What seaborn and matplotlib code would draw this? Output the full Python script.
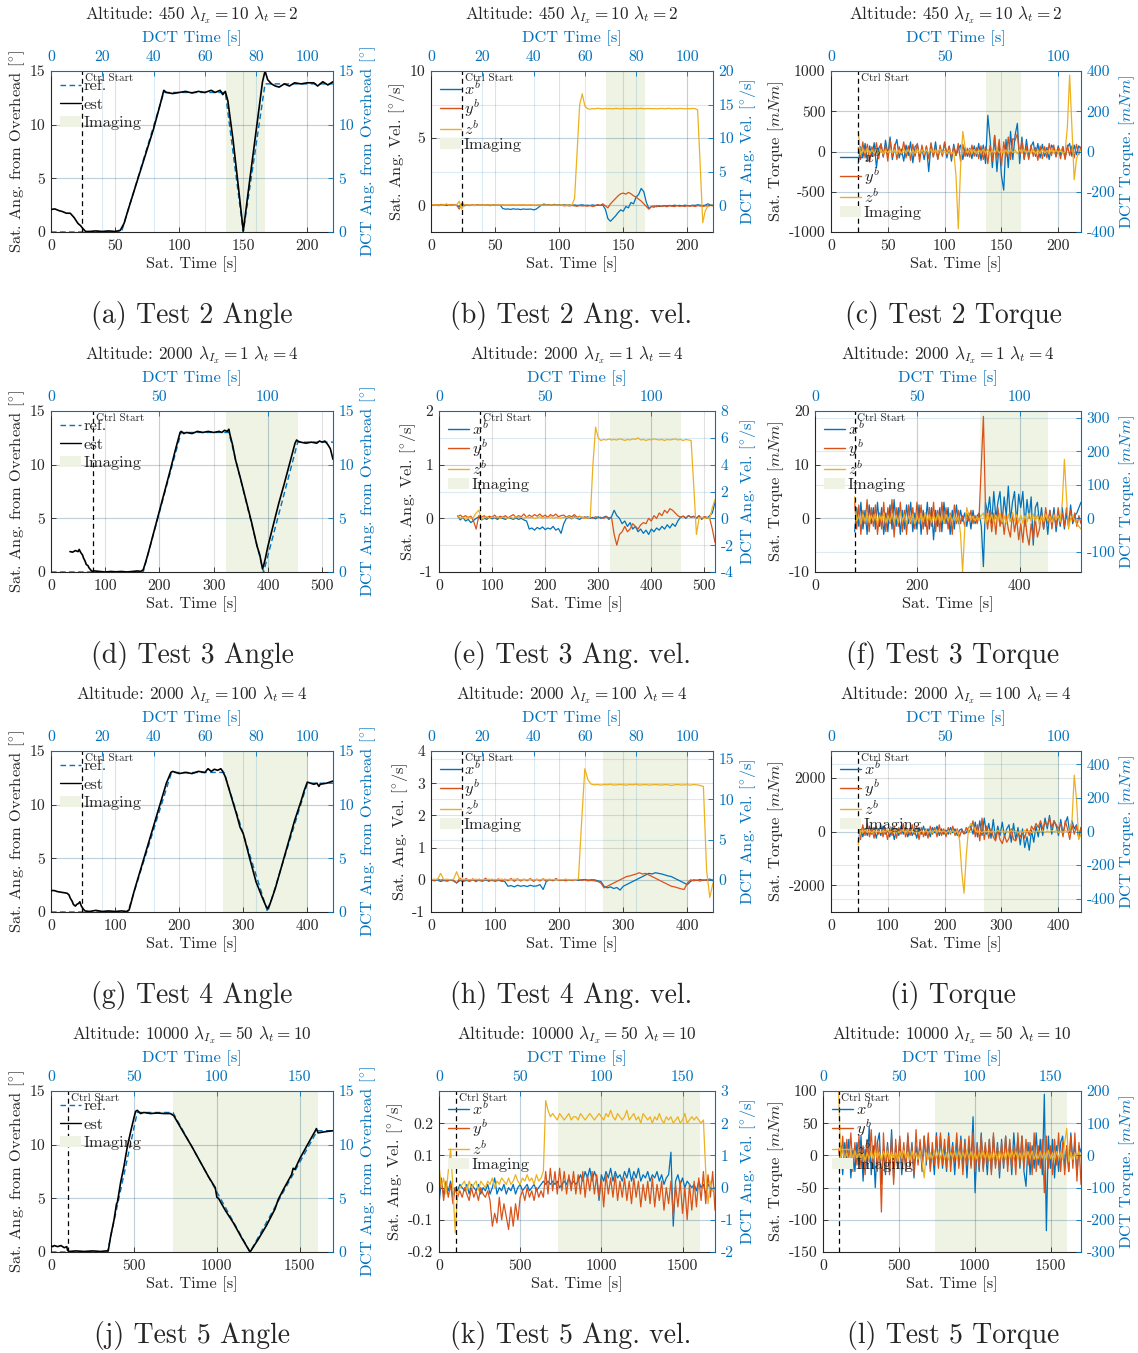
import numpy as np
import matplotlib
matplotlib.use("Agg")
import matplotlib.pyplot as plt
from matplotlib.lines import Line2D
from matplotlib.patches import Patch
import seaborn as sns

# ------------------------------------------------------------------ data
# Test 2 (altitude 450, lambda_t = 2)
a_ref = [(0, 0), (55, 0), (88, 13), (136, 13), (150, 0), (167, 13.8), (220, 13.8)]
a_est = [(0, 2.1), (3, 2.15), (6, 2.0), (9, 1.9), (12, 1.75), (15, 1.75), (18, 1.35), (21, 0.8),
         (23, 0.6), (25, 0.3), (27, 0.05), (30, 0.05), (35, 0.1), (40, 0.05), (45, 0.1), (50, 0.05),
         (54, 0.15), (57, 0.8), (60, 2.0), (70, 5.8), (80, 9.6), (85, 11.8), (88, 13.2), (90, 13.0),
         (95, 12.9), (100, 13.0), (105, 13.1), (110, 12.95), (115, 13.1), (120, 13.0), (125, 13.2),
         (128, 13.0), (132, 13.2), (134, 12.8), (136, 13.1), (138, 12.2), (142, 8.6), (146, 4.4),
         (150, 0.1), (155, 4.8), (160, 9.4), (165, 14.0), (167, 15.0), (169, 14.2), (172, 13.8),
         (175, 13.6), (178, 13.5), (182, 13.8), (186, 13.6), (190, 13.9), (195, 13.8), (200, 13.9),
         (205, 13.9), (208, 13.6), (212, 14.0), (216, 13.7), (220, 14.0)]

b_span = (0, 220)
b_x = [0.0, -0.02, 0.0, -0.03, 0.0, 0.05, -0.02, 0.0, -0.02, 0.03,
       -0.03, -0.1, 0.1, -0.05, 0.02, -0.02, 0.01, -0.03, 0.02, -0.01,
       0.02, -0.02, 0.01, -0.03, 0.0, 0.02, -0.02, 0.0, -0.25, -0.3,
       -0.28, -0.32, -0.27, -0.3, -0.29, -0.33, -0.28, -0.31, -0.3, -0.29,
       -0.35, -0.3, -0.15, 0.0, 0.08, 0.03, 0.05, 0.0, 0.06, 0.02,
       0.04, -0.02, 0.05, 0.0, 0.03, -0.03, 0.02, -0.02, 0.0, 0.03,
       -0.02, 0.0, -0.03, 0.02, -0.02, 0.0, -0.02, 0.01, -0.3, -1.0,
       -1.2, -1.0, -0.8, -0.55, -0.35, -0.45, -0.1, -0.2, 0.2, 0.1,
       0.6, 0.8, 1.25, 1.0, 0.2, -0.25, -0.1, -0.15, -0.05, -0.1,
       -0.08, -0.03, -0.06, -0.02, -0.05, 0.0, -0.04, -0.02, -0.05, 0.0,
       -0.03, -0.05, 0.0, -0.02, 0.03, 0.0, -0.03, 0.0, 0.1, 0.02,
       0.0]
b_y = [0.05, 0.0, 0.03, 0.02, 0.06, 0.0, 0.04, 0.02, 0.05, 0.0,
       0.02, -0.3, 0.1, 0.05, 0.02, -0.03, 0.02, 0.0, 0.03, 0.0,
       0.02, -0.01, 0.03, 0.0, 0.02, -0.02, 0.01, 0.0, 0.02, -0.01,
       0.01, 0.0, 0.02, -0.01, 0.01, 0.0, 0.02, -0.01, 0.0, 0.01,
       0.0, -0.02, 0.01, 0.0, -0.02, 0.01, 0.0, -0.01, 0.01, 0.0,
       -0.02, 0.0, -0.05, -0.02, -0.06, -0.01, -0.05, -0.08, -0.03, -0.06,
       -0.04, -0.08, -0.02, -0.1, -0.05, 0.05, -0.02, 0.1, -0.05, -0.2,
       0.1, 0.3, 0.5, 0.7, 0.85, 0.9, 0.82, 0.95, 0.85, 0.7,
       0.6, 0.45, 0.3, 0.1, -0.1, -0.3, -0.1, -0.05, -0.12, -0.03,
       -0.1, -0.05, -0.12, -0.04, -0.08, -0.1, -0.03, -0.09, -0.05, -0.1,
       -0.04, -0.08, -0.05, -0.1, -0.03, -0.06, -0.1, -0.05, -0.08, -0.02,
       -0.05]
b_z = [0.0, 0.02, 0.0, 0.01, 0.0, 0.02, 0.1, 0.0, 0.01, 0.0,
       0.0, 0.3, -0.3, 0.05, 0.0, 0.02, 0.0, -0.02, 0.0, 0.01,
       0.0, 0.01, 0.0, 0.02, 0.0, 0.01, 0.0, 0.02, 0.0, 0.01,
       0.0, 0.02, 0.0, 0.01, 0.0, 0.02, 0.0, 0.01, 0.0, 0.02,
       0.0, 0.01, 0.0, 0.02, 0.0, 0.01, 0.0, 0.02, 0.0, 0.01,
       0.0, 0.02, 0.0, 0.01, 0.0, 0.02, 0.5, 4.0, 7.5, 8.3,
       7.4, 7.2, 7.15, 7.2, 7.18, 7.22, 7.2, 7.17, 7.21, 7.19,
       7.2, 7.18, 7.21, 7.2, 7.17, 7.22, 7.19, 7.2, 7.18, 7.21,
       7.19, 7.2, 7.22, 7.18, 7.2, 7.21, 7.19, 7.2, 7.18, 7.2,
       7.21, 7.19, 7.2, 7.22, 7.18, 7.2, 7.19, 7.21, 7.2, 7.18,
       7.2, 7.19, 7.21, 7.2, 7.1, 3.0, -1.3, -0.4, -0.1, 0.0,
       0.0]

c_span = (24, 220)
c_x = [-150, 60, -80, 100, -120, 70, -60, 110, -200, 40,
       90, -70, 140, -40, 180, -100, 60, 150, -80, 30,
       -120, 80, -50, 120, -140, 60, 90, -70, 40, -100,
       70, -250, 90, -60, 120, -90, 50, -40, 110, -80,
       60, -120, 90, -50, 30, 80, -100, 50, -60, 40,
       -90, 70, -60, 100, -110, 80, -150, 450, 150, -200,
       200, -250, 100, -300, -480, 150, -200, 250, -100, 200,
       350, -150, 180, -100, 150, -80, 60, 120, -60, 100,
       -80, 90, -60, 50, -100, 80, 40, -60, 70, -50,
       60, -80, 50, 100, -60, 80, -40, 70, 30]
c_y = [50, -100, 120, -80, 90, -130, 60, -50, 110, -90,
       100, -60, 80, -120, 140, -70, 90, -100, 60, -40,
       120, -80, 70, -110, 90, -60, 100, -130, 80, -50,
       60, -90, 110, -70, 50, -100, 80, -60, 120, -40,
       70, -80, 60, -50, 100, -120, 90, -60, 40, -70,
       80, -60, 50, -90, 70, -100, 60, -150, 80, -120,
       200, -80, 150, -180, 120, -60, 180, -100, 160, 140,
       220, -50, 130, -90, 60, -100, 80, -60, 50, -110,
       70, -90, 60, -80, 100, -50, 80, -70, 40, -90,
       60, -100, 80, -50, 70, -80, 90, -40, 60]
c_z = [250, -40, 30, -20, 40, -30, 20, -25, 30, -20,
       25, -30, 20, -15, 30, -20, 25, -30, 20, -25,
       30, -20, 25, -30, 15, -20, 30, -25, 20, -30,
       25, -20, 30, -15, 20, -25, 30, -20, 15, -25,
       20, -30, 0, -300, -960, -200, 250, 50, -20, 30,
       -20, 25, -30, 20, -15, 30, -20, 25, -30, 20,
       -25, 30, -20, 15, -30, 20, -25, 30, -15, 20,
       -30, 25, -20, 30, -25, 15, -20, 25, -30, 20,
       -25, 30, -20, 15, -25, 30, -20, 25, -15, 20,
       -30, 0, 300, 950, 300, -350, -100, 0, 20]

# Test 3 (altitude 2000, lambda_t = 4)
d_ref = [(0, 0), (170, 0), (240, 13), (328, 13), (392, 0), (455, 12.1), (520, 12.1)]
d_est = [(35, 1.9), (40, 1.85), (45, 2.0), (50, 1.9), (52, 2.1), (55, 1.8), (58, 1.6), (60, 1.3),
         (63, 1.0), (65, 0.7), (68, 0.6), (70, 0.4), (73, 0.2), (75, 0.1), (78, 0.05), (80, 0.1),
         (90, 0.05), (100, 0.0), (110, 0.05), (120, 0.02), (130, 0.05), (140, 0.0), (150, 0.05),
         (160, 0.1), (165, 0.05), (170, 0.2), (175, 1.0), (180, 1.9), (190, 3.8), (200, 5.7),
         (210, 7.6), (220, 9.5), (230, 11.5), (238, 13.0), (240, 13.1), (245, 12.9), (250, 13.0),
         (260, 12.9), (270, 13.1), (280, 13.0), (290, 13.1), (300, 13.0), (310, 13.1), (315, 13.0),
         (320, 13.2), (325, 13.1), (328, 13.3), (330, 12.8), (335, 11.8), (340, 10.5), (350, 8.6),
         (360, 6.6), (370, 4.6), (380, 2.4), (385, 1.6), (388, 0.8), (390, 0.3), (392, 0.6),
         (395, 1.2), (400, 2.4), (410, 4.4), (420, 6.4), (430, 8.2), (440, 10.1), (450, 12.0),
         (453, 12.3), (455, 12.2), (460, 12.1), (470, 12.0), (480, 12.1), (490, 12.0), (495, 12.2),
         (500, 12.1), (505, 12.2), (510, 11.9), (515, 11.5), (520, 10.5)]

e_span = (35, 520)
e_x = [0.05, -0.03, 0.02, -0.05, -0.02, -0.08, -0.04, 0.0, 0.03, -0.03,
       0.0, -0.02, 0.02, -0.01, 0.01, -0.02, 0.01, 0.0, -0.02, 0.01,
       0.0, -0.02, 0.01, -0.02, 0.0, -0.03, -0.05, -0.2, -0.18, -0.22,
       -0.17, -0.2, -0.16, -0.21, -0.18, -0.2, -0.15, -0.22, -0.19, -0.28,
       -0.1, 0.0, 0.02, -0.01, 0.03, 0.0, -0.02, 0.02, 0.0, 0.03,
       0.0, 0.02, -0.01, 0.03, 0.0, 0.02, 0.04, -0.02, 0.03, 0.15,
       0.05, 0.0, -0.1, -0.05, -0.15, -0.08, -0.2, -0.15, -0.25, -0.2,
       -0.28, -0.22, -0.3, -0.2, -0.25, -0.18, -0.22, -0.15, -0.2, -0.12,
       -0.18, -0.1, -0.15, -0.05, 0.02, 0.04, 0.0, 0.05, 0.02, 0.04,
       0.0, 0.05, -0.02, 0.03, 0.0, 0.05, 0.1, 0.3]
e_y = [0.03, 0.06, 0.02, 0.05, 0.01, 0.04, -0.05, -0.2, 0.05, 0.02,
       0.05, 0.01, 0.04, 0.02, 0.06, 0.0, 0.04, 0.02, 0.05, 0.01,
       0.04, 0.07, 0.02, 0.05, 0.03, 0.08, 0.02, 0.06, 0.03, 0.07,
       0.04, 0.08, 0.03, 0.06, 0.02, 0.07, 0.04, 0.08, 0.03, 0.05,
       0.06, 0.02, 0.05, 0.03, 0.07, 0.02, 0.04, 0.01, 0.03, 0.0,
       0.02, 0.0, 0.03, 0.01, 0.02, 0.0, 0.03, 0.01, 0.02, -0.3,
       -0.5, -0.3, -0.25, -0.15, -0.25, -0.2, -0.1, -0.15, -0.2, -0.12,
       -0.08, -0.1, 0.0, -0.05, 0.05, 0.0, 0.1, 0.05, 0.15, 0.1,
       0.18, 0.15, 0.1, 0.05, 0.02, 0.04, 0.01, 0.05, 0.02, 0.03,
       0.01, 0.04, 0.0, 0.03, 0.02, 0.0, -0.2, -0.45]
e_z = [0.05, 0.0, 0.02, -0.01, 0.03, 0.0, 0.02, 0.1, 0.15, -0.02,
       0.01, 0.03, 0.0, 0.02, 0.01, 0.03, 0.0, 0.02, 0.01, 0.0,
       0.02, 0.0, 0.03, 0.01, 0.02, 0.0, 0.03, 0.01, 0.02, 0.0,
       0.01, 0.03, 0.0, 0.02, 0.01, 0.03, 0.0, 0.02, 0.01, 0.0,
       0.02, 0.01, 0.03, 0.0, 0.02, 0.01, 0.03, 0.02, 0.0, 0.01,
       0.02, 1.0, 1.7, 1.5, 1.45, 1.47, 1.46, 1.48, 1.46, 1.47,
       1.46, 1.48, 1.47, 1.45, 1.47, 1.46, 1.48, 1.47, 1.5, 1.46,
       1.47, 1.45, 1.47, 1.46, 1.48, 1.47, 1.46, 1.47, 1.45, 1.47,
       1.46, 1.47, 1.48, 1.46, 1.47, 1.45, 1.47, 1.46, 1.45, 0.6,
       -0.3, 0.0, 0.02, 0.0, 0.01, 0.0, 0.2, 0.35]

f_span = (77.5, 520)
f_x = [-2.5, 2, -1.5, 3, -2, 1.5, -3, 2.5, -1, 2,
       -2, 3, -1.5, 2, -3, 1, -2.5, 2.5, -2, 3.5,
       -1.5, 2, -3, 1.5, -2, 2.5, -1, 3, -2.5, 1,
       -2, 2.5, -3, 1.5, -1.5, 3, -2, 2, -4, 1.5,
       -1.5, 2, -2.5, 3, -1, 2, -3, 1.5, -2, 2.5,
       -1, 1.5, -0.5, 1, -1.5, 1, -2, 1.5, -1, 0.5,
       1, -1.5, -9, 3, 1, 4, -1, 5, 0, 3,
       5, -1, 4, 0.5, 6, -0.5, 3, 5, -1, 4.5,
       2, 5, -1.5, 3.5, 0, 4, -5, 2, 3, -1,
       2, -2, 1, -3, 1.5, -1, 2, -2.5, 1, -1.5,
       2, -2, 1, -1.5, 2.5, -1, 0.5, 1, 2, 3]
f_y = [3, -2, 2.5, -3, 1.5, -1, 3.5, -2.5, 2, -1.5,
       2.5, -3, 1, -2, 3, -2.5, 2, -1, 3.5, -3.5,
       2, -1.5, 3, -2.5, 1.5, -3, 2.5, -1, 2, -2,
       3, -1, 2.5, -2, 1, -3, 2, -1.5, 3, -2.5,
       1.5, -2.5, 3, -1, 2, -2, 1, -3, 2.5, -1,
       1.5, -1, 0.5, -1.5, 1, -0.5, 1.5, -1, 0.5, -1,
       1, 10, 19, 2, -2, 1.5, -2.5, 1, -3, 2,
       -1.5, 1, -3, 0.5, -2, -3.5, 1, -2.5, 0, -4,
       -1, -4.5, 0.5, -3, -5, -1, -4, 0, -3.5, -2,
       1, -2, 2, -1, 1.5, -2, 1, -1.5, 2, -1,
       1, -1.5, 2, -1, 1.5, -0.5, 1, -1.5, 0.5, -1]
f_z = [4, -0.5, 0.5, -1, 0.8, -0.6, 1, -0.8, 0.5, -0.5,
       0.8, -1, 0.6, -0.5, 1, -0.8, 0.5, -0.6, 0.9, -0.7,
       0.6, -0.8, 1, -0.5, 0.7, -0.9, 0.5, -0.6, 0.8, -1,
       0.5, -0.7, 0.9, -0.6, 1, -0.5, 0.7, -0.8, 0.6, -0.5,
       0.8, -0.6, 0.5, -0.9, 0.7, -0.5, 0.6, -0.7, 0.5, -0.4,
       0.3, -3, -10, -2, 2, 0.5, -0.3, 0.4, -0.5, 0.3,
       -0.4, 0.5, 1, -1, 0.8, -0.6, 0.7, -0.8, 0.6, -0.5,
       0.9, -0.7, 0.5, -1, 0.8, -0.6, 1, -0.5, 0.7, -0.8,
       0.6, -0.9, 0.5, -0.7, 1, -0.6, 0.8, -0.5, 0.7, -0.9,
       0.5, -0.6, 0.8, -0.5, 0.4, -0.7, 0.6, -0.3, 0.5, -0.6,
       3, 11, 4, -2, 0, 0.5, -0.5, -1, -1.5, -2]

# Test 4 (altitude 2000, lambda_t = 4)
g_ref = [(0, 0), (120, 0), (188, 13), (270, 13), (338, 0), (400, 12), (440, 12)]
g_est = [(0, 2.0), (5, 2.0), (10, 1.9), (15, 1.85), (20, 1.8), (25, 1.75), (28, 1.6), (30, 1.3),
         (33, 1.0), (35, 0.7), (38, 0.55), (40, 0.7), (43, 0.8), (45, 0.95), (47, 0.6), (50, 0.3),
         (53, 0.1), (60, 0.05), (70, 0.15), (80, 0.05), (90, 0.1), (100, 0.05), (110, 0.1),
         (118, 0.05), (122, 0.2), (130, 2.0), (140, 4.0), (150, 6.0), (160, 8.0), (170, 10.0),
         (180, 12.0), (187, 13.0), (190, 13.1), (195, 13.0), (200, 12.9), (210, 13.0), (220, 12.9),
         (230, 13.1), (240, 13.0), (245, 13.35), (250, 13.1), (255, 13.3), (260, 13.2), (265, 13.35),
         (268, 13.1), (272, 12.6), (280, 11.0), (290, 9.0), (295, 7.9), (300, 7.3), (310, 5.0),
         (320, 2.8), (330, 1.3), (335, 0.6), (338, 0.3), (342, 0.8), (350, 2.2), (360, 4.3),
         (370, 6.4), (380, 8.5), (390, 10.3), (395, 11.3), (400, 12.1), (405, 12.0), (410, 11.9),
         (415, 12.0), (418, 11.7), (420, 11.9), (430, 12.0), (440, 12.2)]

h_span = (0, 440)
h_x = [0.0, -0.03, -0.01, -0.05, -0.02, -0.04, -0.01, -0.03, -0.1, -0.02,
       -0.05, -0.02, -0.04, -0.01, -0.03, -0.02, -0.04, -0.01, -0.03, -0.02,
       -0.04, -0.02, -0.03, -0.05, -0.2, -0.18, -0.22, -0.17, -0.2, -0.18,
       -0.21, -0.17, -0.2, -0.19, -0.15, -0.3, -0.05, 0.0, -0.02, 0.01,
       0.0, -0.02, 0.01, -0.01, 0.0, 0.01, -0.02, 0.0, 0.01, -0.01,
       0.0, 0.0, -0.03, -0.05, -0.2, -0.25, -0.22, -0.27, -0.24, -0.32,
       -0.2, -0.15, -0.1, -0.05, 0.0, 0.05, 0.1, 0.15, 0.2, 0.18,
       0.22, 0.2, 0.18, 0.15, 0.12, 0.1, 0.05, 0.0, -0.05, -0.1,
       -0.15, -0.05, 0.0, -0.02, 0.01, -0.02, 0.0, 0.02, -0.01]
h_y = [0.0, -0.02, 0.02, -0.01, 0.01, -0.02, 0.0, -0.01, -0.1, 0.05,
       -0.03, 0.04, -0.05, 0.03, -0.06, 0.02, -0.04, 0.05, -0.05, 0.02,
       -0.04, 0.03, -0.05, 0.02, -0.03, 0.04, -0.05, 0.03, -0.04, 0.02,
       -0.03, 0.04, -0.05, 0.02, -0.04, 0.03, -0.05, 0.02, -0.03, 0.04,
       -0.02, 0.0, -0.03, 0.01, -0.02, 0.0, 0.01, -0.02, 0.0, -0.03,
       -0.02, -0.03, -0.05, -0.1, -0.25, -0.2, -0.15, -0.1, -0.05, 0.0,
       0.05, 0.1, 0.12, 0.15, 0.18, 0.22, 0.18, 0.2, 0.15, 0.1,
       0.05, 0.0, -0.05, -0.1, -0.15, -0.2, -0.22, -0.25, -0.28, -0.3,
       -0.1, 0.0, -0.03, -0.01, -0.04, 0.0, -0.02, 0.01, -0.03]
h_z = [0.0, 0.02, 0.0, 0.2, 0.0, 0.02, 0.0, 0.01, 0.25, 0.0,
       0.02, 0.0, 0.01, 0.0, 0.02, 0.0, 0.01, 0.0, 0.02, 0.0,
       0.01, 0.0, 0.02, 0.0, 0.01, 0.0, 0.02, 0.01, 0.0, 0.01,
       0.0, 0.02, 0.0, 0.01, 0.0, 0.02, 0.01, 0.0, 0.01, 0.0,
       0.01, 0.0, 0.02, 0.0, 0.01, 0.0, 0.02, 1.8, 3.45, 3.1,
       2.97, 2.95, 2.96, 2.94, 2.96, 2.95, 2.97, 2.94, 2.95, 2.96,
       2.95, 2.94, 2.96, 2.95, 2.97, 2.94, 2.95, 2.96, 2.94, 2.95,
       2.96, 2.95, 2.94, 2.96, 2.95, 2.93, 2.95, 2.96, 2.94, 2.95,
       2.95, 2.94, 2.96, 2.95, 2.93, 2.9, 0.3, -0.55, -0.1]

i_span = (48, 440)
i_x = [-400, 150, -200, 100, -150, 200, -100, 150, -250, 100,
       -150, 200, -100, 50, -200, 150, -300, 100, -150, 200,
       -100, 150, -200, 100, -150, 50, -250, 150, -100, 200,
       -150, 100, -200, 150, -50, 200, -150, 100, -100, 50,
       -100, 150, -50, 100, -150, 50, 100, -80, -50, 150,
       200, -100, 350, -200, 400, -150, 500, -100, 300, -250,
       450, -300, 200, -150, 350, -200, 100, 250, -400, 300,
       -300, 150, -500, 100, -600, -200, -700, 50, -400, 200,
       -200, 350, -150, 500, 100, 600, -100, 400, 200, -150,
       450, -100, 300, 550, -50, 400, 100, 250, -200, 150]
i_y = [200, -300, 250, -150, 300, -200, 150, -250, 200, -100,
       250, -200, 150, -300, 100, -150, 200, -250, 150, -100,
       300, -200, 100, -150, 250, -100, 200, -300, 150, -200,
       100, -250, 200, -100, 150, -200, 250, -150, 100, -200,
       150, -100, 200, -150, 100, -200, 50, -100, 150, -50,
       100, 400, -200, 250, -350, 500, -300, 200, -250, 100,
       -200, -350, 50, -300, -450, -150, -400, -250, 100, -300,
       -350, -100, -200, 0, -250, 100, -150, 200, 50, 300,
       150, 400, 100, 350, 200, 500, 150, 400, 250, 100,
       300, -200, 400, 100, -300, 250, -100, 200, -250, 150]
i_z = [-500, 40, -30, 50, -40, 30, -50, 40, -30, 20,
       -40, 30, -20, 50, -30, 40, -50, 30, -40, 20,
       30, -40, 50, -20, 40, -30, 20, -50, 30, -40,
       40, -30, 20, -40, 50, -30, 40, -20, 30, -50,
       20, -40, 30, -50, 40, -300, -1500, -2300, -900, 100,
       300, 200, 50, -30, 20, -40, 30, -20, 40, -30,
       20, -30, 40, -20, 30, -40, 20, -30, 40, -20,
       30, -40, 20, -30, 40, -20, 30, -40, 20, -30,
       40, -20, 30, -40, 20, -30, 40, -20, 30, -40,
       20, -30, 40, -20, 30, 400, 2100, 1200, -300, -100]

# Test 5 (altitude 10000, lambda_t = 10)
j_ref = [(0, 0), (340, 0), (520, 13), (735, 13), (1200, 0), (1605, 11.3), (1700, 11.3)]
j_est = [(0, 0.6), (10, 0.5), (20, 0.6), (40, 0.5), (60, 0.6), (80, 0.4), (95, 0.5), (100, 0.15),
         (110, 0.05), (150, 0.1), (200, 0.05), (250, 0.1), (300, 0.05), (330, 0.1), (345, 0.1),
         (360, 1.5), (380, 3.0), (395, 4.5), (400, 4.6), (420, 6.5), (440, 8.0), (460, 9.8),
         (480, 11.2), (500, 12.5), (510, 13.1), (520, 13.2), (540, 12.9), (560, 13.0), (600, 12.9),
         (640, 12.95), (680, 12.9), (720, 12.9), (740, 12.7), (800, 11.1), (850, 9.8), (900, 8.4),
         (950, 7.0), (990, 6.0), (1000, 5.1), (1010, 5.0), (1050, 3.9), (1100, 2.7), (1150, 1.3),
         (1200, 0.0), (1250, 1.2), (1300, 2.5), (1350, 4.0), (1370, 4.9), (1400, 5.8), (1450, 7.2),
         (1460, 7.8), (1470, 7.7), (1500, 8.7), (1550, 10.1), (1590, 11.2), (1600, 11.5),
         (1610, 11.1), (1650, 11.2), (1700, 11.3)]

k_span = (0, 1700)
k_x = [-0.05, 0.02, -0.02, 0.01, -0.01, 0.02, -0.03, 0.0, -0.01, 0.01,
       0.0, -0.01, 0.01, -0.02, 0.01, 0.0, -0.01, 0.01, -0.02, 0.0,
       -0.01, 0.01, -0.02, 0.0, 0.03, -0.02, 0.0, -0.01, 0.01, -0.02,
       0.0, -0.01, 0.01, -0.02, 0.0, 0.01, -0.01, 0.0, 0.01, -0.01,
       0.0, 0.01, -0.01, 0.0, 0.01, 0.02, 0.01, 0.02, 0.01, 0.02,
       0.01, 0.02, 0.0, 0.01, 0.02, 0.01, 0.03, 0.01, 0.02, 0.01,
       0.02, 0.04, 0.02, 0.05, 0.03, 0.06, 0.02, 0.05, 0.03, -0.04,
       0.04, 0.02, 0.05, 0.03, 0.06, 0.02, 0.05, 0.03, 0.04, 0.02,
       0.05, 0.03, 0.06, 0.02, 0.05, 0.03, 0.06, 0.02, 0.04, 0.03,
       0.05, 0.02, 0.04, 0.03, 0.05, 0.02, 0.04, 0.01, 0.03, 0.04,
       0.11, -0.12, 0.02, 0.04, 0.01, 0.03, 0.0, 0.02, 0.01, 0.0,
       0.01, -0.01, 0.02, 0.0, 0.01, -0.02, 0.01, 0.0, -0.01, 0.0]
k_y = [-0.02, 0.03, -0.04, 0.02, -0.03, 0.01, -0.05, 0.0, -0.03, -0.01,
       -0.03, 0.0, -0.02, -0.04, 0.0, -0.03, -0.01, -0.04, 0.0, -0.02,
       -0.03, -0.01, -0.04, -0.12, -0.08, -0.11, -0.03, -0.1, -0.05, -0.09,
       -0.13, -0.06, -0.12, -0.05, -0.1, -0.03, -0.01, -0.04, 0.0, -0.03,
       -0.01, -0.04, 0.0, -0.03, -0.01, -0.03, 0.05, -0.02, 0.06, -0.01,
       0.05, -0.02, 0.06, -0.01, 0.05, -0.02, 0.04, -0.01, 0.05, -0.02,
       0.04, -0.02, 0.05, -0.03, 0.04, -0.01, 0.05, -0.02, 0.04, -0.03,
       0.03, -0.06, 0.04, -0.02, 0.03, -0.03, 0.04, -0.04, 0.02, -0.03,
       0.03, -0.04, 0.02, -0.05, 0.03, -0.03, 0.02, -0.06, 0.01, -0.04,
       0.02, -0.05, 0.03, -0.06, 0.01, -0.04, 0.02, -0.07, 0.0, -0.05,
       0.02, -0.09, 0.01, -0.06, 0.02, -0.08, 0.0, -0.1, 0.01, -0.07,
       0.02, -0.06, 0.03, -0.04, 0.05, -0.05, 0.04, -0.03, 0.05, -0.07]
k_z = [0.07, 0.0, 0.03, -0.02, 0.05, 0.12, 0.0, -0.14, -0.02, 0.0,
       0.01, 0.02, -0.01, 0.02, 0.0, 0.01, 0.02, -0.01, 0.02, 0.01,
       0.0, 0.02, 0.01, 0.03, 0.0, 0.02, 0.01, 0.03, 0.02, 0.01,
       0.03, 0.01, 0.02, 0.04, 0.02, 0.01, 0.03, 0.02, 0.04, 0.02,
       0.03, 0.01, 0.04, 0.02, 0.03, 0.05, 0.27, 0.24, 0.22, 0.23,
       0.22, 0.21, 0.23, 0.22, 0.21, 0.22, 0.23, 0.21, 0.22, 0.22,
       0.21, 0.23, 0.22, 0.21, 0.22, 0.23, 0.22, 0.21, 0.22, 0.23,
       0.22, 0.21, 0.23, 0.22, 0.24, 0.22, 0.21, 0.23, 0.22, 0.21,
       0.22, 0.24, 0.21, 0.22, 0.23, 0.21, 0.22, 0.20, 0.23, 0.22,
       0.21, 0.22, 0.20, 0.22, 0.21, 0.23, 0.21, 0.20, 0.22, 0.21,
       0.22, 0.20, 0.21, 0.22, 0.20, 0.21, 0.23, 0.20, 0.21, 0.22,
       0.21, 0.22, 0.21, 0.20, 0.21, 0.05, -0.05, 0.02, -0.01, 0.0]

l_span = (103, 1700)
l_x = [-20, 15, -30, 20, -10, 25, -35, 10, -25, 20,
       -15, 30, -40, 10, -20, 45, -30, 15, -50, 20,
       35, -45, 10, -30, 20, -25, 40, -35, 15, -20,
       25, -30, 10, -20, 30, -15, 20, -35, 15, -10,
       20, -25, 30, -15, 25, -20, 10, -30, 35, -15,
       30, -20, 15, -25, 35, -10, 20, -30, 25, -15,
       30, -20, 25, -35, 20, -15, 60, -58, 20, -25,
       35, -20, 15, -30, 25, -25, 30, -15, 20, -35,
       25, -20, 30, -15, 20, -30, 35, -10, 25, -20,
       30, -25, -48, 20, -30, 15, -20, 35, -15, 25,
       -30, 95, -117, 30, -20, 25, -35, 15, -25, 20,
       30, -20, 15, -25, 35, -10, 20, -30, 15, 5]
l_y = [10, -15, 30, -20, 25, -10, 35, -25, 20, -15,
       30, -20, 15, -30, 25, -10, 40, -20, 30, -25,
       20, -88, 35, -25, 15, -30, 30, -45, 25, -20,
       30, -15, 20, -25, 35, -20, 15, -30, 40, -15,
       25, -20, 30, -10, 35, -25, 20, -15, 30, -20,
       35, -15, 25, -20, 30, -25, 15, -10, 35, -20,
       25, -30, 20, -15, 30, -20, 35, -25, 15, -20,
       30, -25, 20, -15, 25, -30, 35, -20, 15, -25,
       20, -15, 30, -25, 25, -20, 15, -30, 35, -15,
       30, -20, 25, -15, 20, -30, 35, -25, 15, -20,
       25, -58, 30, -20, 15, -30, 25, -15, 35, -25,
       20, -30, 15, -25, 30, -20, 35, -40, 20, -45]
l_z = [100, -5, 8, -6, 4, -8, 6, -4, 7, -5,
       6, -7, 5, -8, 4, -6, 7, -5, 8, -4,
       5, -8, 6, -4, 7, -6, 5, -7, 4, -8,
       6, -5, 8, -4, 5, -7, 6, -5, 4, -6,
       7, -10, -35, 5, -6, 4, -5, 7, -4, 6,
       -5, 8, -6, 4, -7, 5, -4, 6, -5, 7,
       -6, 5, -4, 8, -5, 6, -7, 4, -6, 5,
       -4, 7, -5, 6, -8, 4, -6, 5, -7, 6,
       -5, 4, -6, 7, -5, 8, -4, 6, -5, 4,
       -7, 5, -4, 6, -5, 7, -6, 4, -5, 6,
       -4, 5, -6, 8, -5, 4, -7, 6, -4, 5,
       -6, 20, 42, -10, 5, -6, 4, -5, 6, -4]

# ------------------------------------------------------------------ style
sns.set_style("white")
plt.rcParams.update({
    "font.family": ["cmr10", "DejaVu Serif"],
    "mathtext.fontset": "cm",
    "axes.formatter.use_mathtext": True,
    "axes.unicode_minus": False,
})

BLUE = "#0072BD"
ORANGE = "#D95319"
YELLOW = "#EDB120"
DARK = "#262626"
IMG = "#eef3e4"
GRID_K = (0.15, 0.15, 0.15, 0.14)
GRID_B = (0.0, 0.447, 0.741, 0.14)
FS_TITLE = 12.4     # titles above each panel
FS_LAB = 11.8       # axis labels and legends
FS_TICK = 11.3      # tick labels

W, H = 1138, 1353
fig = plt.figure(figsize=(W / 100, H / 100), dpi=100)
fig.patch.set_facecolor("white")

ANG_L = "Sat. Ang. from Overhead [$^{\\circ}$]"
ANG_R = "DCT Ang. from Overhead [$^{\\circ}$]"
VEL_L = "Sat. Ang. Vel. [$^{\\circ}$/s]"
VEL_R = "DCT Ang. Vel. [$^{\\circ}$/s]"
TRQ_L = "Sat. Torque [$mNm$]"
TRQ_R = "DCT Torque. [$mNm$]"

T2 = "Altitude: 450 $\\lambda_{I_x} = 10$ $\\lambda_t = 2$"
T3 = "Altitude: 2000 $\\lambda_{I_x} = 1$ $\\lambda_t = 4$"
T4 = "Altitude: 2000 $\\lambda_{I_x} = 100$ $\\lambda_t = 4$"
T5 = "Altitude: 10000 $\\lambda_{I_x} = 50$ $\\lambda_t = 10$"

panels = [
    dict(kind="angle", box=(51, 71, 333, 232), title=T2, cap="(a) Test 2 Angle",
         xlim=(0, 220), xt=[0, 50, 100, 150, 200], lam=2, tt=[0, 20, 40, 60, 80, 100],
         ylim=(0, 15), yt=[0, 5, 10, 15], rlim=(0, 15), rt=[0, 5, 10, 15],
         ctrl=24, img=(136.7, 167), ref=a_ref, est=a_est),
    dict(kind="vel", box=(431, 71, 713, 232), title=T2, cap="(b) Test 2 Ang. vel.",
         xlim=(0, 220), xt=[0, 50, 100, 150, 200], lam=2, tt=[0, 20, 40, 60, 80, 100],
         ylim=(-2, 10), yt=[0, 5, 10], rlim=(-4, 20), rt=[0, 5, 10, 15, 20],
         ctrl=24, img=(136.7, 167), span=b_span, xyz=(b_x, b_y, b_z)),
    dict(kind="torque", box=(831, 71, 1081, 232), title=T2, cap="(c) Test 2 Torque",
         xlim=(0, 220), xt=[0, 50, 100, 150, 200], lam=2, tt=[0, 50, 100],
         ylim=(-1000, 1000), yt=[-1000, -500, 0, 500, 1000], rlim=(-400, 400),
         rt=[-400, -200, 0, 200, 400], ctrl=24, img=(136.7, 167), span=c_span,
         xyz=(c_x, c_y, c_z), leg_off=76),
    dict(kind="angle", box=(51, 411, 333, 572), title=T3, cap="(d) Test 3 Angle",
         xlim=(0, 520), xt=[0, 100, 200, 300, 400, 500], lam=4, tt=[0, 50, 100],
         ylim=(0, 15), yt=[0, 5, 10, 15], rlim=(0, 15), rt=[0, 5, 10, 15],
         ctrl=77.5, img=(322, 455), ref=d_ref, est=d_est),
    dict(kind="vel", box=(439, 411, 715, 572), title=T3, cap="(e) Test 3 Ang. vel.",
         xlim=(0, 520), xt=[0, 100, 200, 300, 400, 500], lam=4, tt=[0, 50, 100],
         ylim=(-1, 2), yt=[-1, 0, 1, 2], rlim=(-4, 8), rt=[-4, -2, 0, 2, 4, 6, 8],
         ctrl=77.5, img=(322, 455), span=e_span, xyz=(e_x, e_y, e_z)),
    dict(kind="torque", box=(815, 411, 1081, 572), title=T3, cap="(f) Test 3 Torque",
         xlim=(0, 520), xt=[0, 200, 400], lam=4, tt=[0, 50, 100],
         ylim=(-10, 20), yt=[-10, 0, 10, 20], rlim=(-160, 320),
         rt=[-100, 0, 100, 200, 300], ctrl=77.5, img=(322, 455), span=f_span,
         xyz=(f_x, f_y, f_z)),
    dict(kind="angle", box=(51, 751, 333, 912), title=T4, cap="(g) Test 4 Angle",
         xlim=(0, 440), xt=[0, 100, 200, 300, 400], lam=4, tt=[0, 20, 40, 60, 80, 100],
         ylim=(0, 15), yt=[0, 5, 10, 15], rlim=(0, 15), rt=[0, 5, 10, 15],
         ctrl=48, img=(269, 401), ref=g_ref, est=g_est),
    dict(kind="vel", box=(431, 751, 713, 912), title=T4, cap="(h) Test 4 Ang. vel.",
         xlim=(0, 440), xt=[0, 100, 200, 300, 400], lam=4, tt=[0, 20, 40, 60, 80, 100],
         ylim=(-1, 4), yt=[-1, 0, 1, 2, 3, 4], rlim=(-4, 16), rt=[0, 5, 10, 15],
         ctrl=48, img=(269, 401), span=h_span, xyz=(h_x, h_y, h_z)),
    dict(kind="torque", box=(831, 751, 1081, 912), title=T4, cap="(i) Torque",
         xlim=(0, 440), xt=[0, 100, 200, 300, 400], lam=4, tt=[0, 50, 100],
         ylim=(-3000, 3000), yt=[-2000, 0, 2000], rlim=(-480, 480),
         rt=[-400, -200, 0, 200, 400], ctrl=48, img=(269, 401), span=i_span,
         xyz=(i_x, i_y, i_z)),
    dict(kind="angle", box=(51, 1091, 333, 1252), title=T5, cap="(j) Test 5 Angle",
         xlim=(0, 1700), xt=[0, 500, 1000, 1500], lam=10, tt=[0, 50, 100, 150],
         ylim=(0, 15), yt=[0, 5, 10, 15], rlim=(0, 15), rt=[0, 5, 10, 15],
         ctrl=103, img=(735, 1608), ref=j_ref, est=j_est),
    dict(kind="vel", box=(439, 1091, 715, 1252), title=T5, cap="(k) Test 5 Ang. vel.",
         xlim=(0, 1700), xt=[0, 500, 1000, 1500], lam=10, tt=[0, 50, 100, 150],
         ylim=(-0.2, 0.3), yt=[-0.2, -0.1, 0, 0.1, 0.2], rlim=(-2, 3),
         rt=[-2, -1, 0, 1, 2, 3], ctrl=103, img=(735, 1608), span=k_span,
         xyz=(k_x, k_y, k_z)),
    dict(kind="torque", box=(823, 1091, 1081, 1252), title=T5, cap="(l) Test 5 Torque",
         xlim=(0, 1700), xt=[0, 500, 1000, 1500], lam=10, tt=[0, 50, 100, 150],
         ylim=(-150, 100), yt=[-150, -100, -50, 0, 50, 100], rlim=(-300, 200),
         rt=[-300, -200, -100, 0, 100, 200], ctrl=103, img=(735, 1608), span=l_span,
         xyz=(l_x, l_y, l_z)),
]

CAP_X = [192, 571, 953]
YLABELS = {"angle": (ANG_L, ANG_R), "vel": (VEL_L, VEL_R), "torque": (TRQ_L, TRQ_R)}


def fmt(v):
    return str(int(round(v))) if float(v).is_integer() else f"{v:g}"


def line(ax, t, v, color, lw=0.9, ls="-", z=2):
    sns.lineplot(x=np.asarray(t, float), y=np.asarray(v, float), ax=ax, color=color,
                 linewidth=lw, linestyle=ls, estimator=None, sort=False, legend=False,
                 zorder=z)


def build(idx, p):
    L, T, R, B = p["box"]
    ax = fig.add_axes([L / W, 1 - B / H, (R - L) / W, (B - T) / H])
    axr = ax.twinx()
    axt = ax.twiny()
    x0, x1 = p["xlim"]
    y0, y1 = p["ylim"]
    r0, r1 = p["rlim"]
    lam = p["lam"]
    ax.set_xlim(x0, x1)
    ax.set_ylim(y0, y1)
    axt.set_xlim(x0 / lam, x1 / lam)
    axr.set_ylim(r0, r1)

    ax.set_xticks(p["xt"], labels=[fmt(v) for v in p["xt"]])
    ax.set_yticks(p["yt"], labels=[fmt(v) for v in p["yt"]])
    axt.set_xticks(p["tt"], labels=[fmt(v) for v in p["tt"]])
    axr.set_yticks(p["rt"], labels=[fmt(v) for v in p["rt"]])

    # grid lines of both coordinate systems, kept beneath the data
    for v in p["xt"]:
        if x0 < v < x1:
            ax.axvline(v, color=GRID_K, lw=0.8, zorder=0.5)
    for v in p["tt"]:
        s = v * lam
        if x0 < s < x1:
            ax.axvline(s, color=GRID_B, lw=0.8, zorder=0.5)
    for v in p["yt"]:
        if y0 < v < y1:
            ax.axhline(v, color=GRID_K, lw=0.8, zorder=0.5)
    for v in p["rt"]:
        yy = y0 + (v - r0) * (y1 - y0) / (r1 - r0)
        if y0 < yy < y1:
            ax.axhline(yy, color=GRID_B, lw=0.8, zorder=0.5)

    ax.axvspan(*p["img"], color=IMG, lw=0, zorder=0.3)

    if p["kind"] == "angle":
        rt_, rv_ = zip(*p["ref"])
        et_, ev_ = zip(*p["est"])
        line(ax, rt_, rv_, BLUE, lw=1.0, ls=(0, (4, 2.5)), z=2)
        line(ax, et_, ev_, "black", lw=1.2, z=3)
        handles = [Line2D([], [], color=BLUE, lw=1.0, ls=(0, (4, 2.5))),
                   Line2D([], [], color="black", lw=1.0),
                   Patch(facecolor=IMG, edgecolor="none")]
        labels = ["ref.", "est", "Imaging"]
        spacing = 0.24
    else:
        t0, t1 = p["span"]
        for vals, col, z in zip(p["xyz"], (BLUE, ORANGE, YELLOW), (2, 2.1, 2.2)):
            line(ax, np.linspace(t0, t1, len(vals)), vals, col, lw=0.9, z=z)
        handles = [Line2D([], [], color=c, lw=1.0) for c in (BLUE, ORANGE, YELLOW)]
        handles.append(Patch(facecolor=IMG, edgecolor="none"))
        labels = ["$x^b$", "$y^b$", "$z^b$", "Imaging"]
        spacing = 0.0

    lab_l, lab_r = YLABELS[p["kind"]]
    ax.set_ylabel(lab_l, fontsize=FS_LAB, color=DARK, labelpad=2)
    axr.set_ylabel(lab_r, fontsize=FS_LAB, color=BLUE,
                   labelpad=1.5 if p["kind"] == "torque" else 3)

    # control start marker
    ax.axvline(p["ctrl"], color="black", lw=0.9, ls=(0, (4, 3)), zorder=4)
    ax.annotate("Ctrl Start", xy=(p["ctrl"], 1), xycoords=("data", "axes fraction"),
                xytext=(2, -1.5), textcoords="offset points", fontsize=8,
                color=DARK, ha="left", va="top", zorder=5)

    hpx = B - T
    off = p.get("leg_off", 8)
    ax.legend(handles, labels, loc="upper left",
              bbox_to_anchor=(9 / (R - L), 1 - off / hpx), frameon=False,
              fontsize=FS_LAB, handlelength=1.3, handletextpad=0.15, labelspacing=spacing,
              borderaxespad=0, borderpad=0)

    ax.set_xlabel("Sat. Time [s]", fontsize=FS_LAB, color=DARK, labelpad=3)
    axt.set_xlabel("DCT Time [s]", fontsize=FS_LAB, color=BLUE, labelpad=6)

    ax.tick_params(axis="x", bottom=True, top=False, direction="in", length=3.5,
                   width=0.6, color=DARK, labelcolor=DARK, labelsize=FS_TICK, pad=5)
    ax.tick_params(axis="y", left=True, right=False, direction="in", length=3.5,
                   width=0.6, color=DARK, labelcolor=DARK, labelsize=FS_TICK, pad=4)
    axr.tick_params(axis="y", right=True, left=False, direction="in", length=3.5,
                    width=0.6, color=BLUE, labelcolor=BLUE, labelsize=FS_TICK, pad=4)
    axt.tick_params(axis="x", top=True, bottom=False, direction="in", length=3.5,
                    width=0.6, color=BLUE, labelcolor=BLUE, labelsize=FS_TICK, pad=5)

    for s in ("top", "right"):
        ax.spines[s].set_visible(False)
    for s in ("left", "bottom"):
        ax.spines[s].set_color(DARK)
        ax.spines[s].set_linewidth(0.8)
    for s in ("left", "bottom", "top"):
        axr.spines[s].set_visible(False)
    axr.spines["right"].set_color(BLUE)
    axr.spines["right"].set_linewidth(0.8)
    for s in ("left", "bottom", "right"):
        axt.spines[s].set_visible(False)
    axt.spines["top"].set_color(BLUE)
    axt.spines["top"].set_linewidth(0.8)

    cx = (L + R) / 2
    fig.text(cx / W, 1 - (T - 56) / H, p["title"], ha="center", va="center",
             fontsize=FS_TITLE, color=DARK)
    fig.text(CAP_X[idx % 3] / W, 1 - (B + 83) / H, p["cap"], ha="center", va="center",
             fontsize=20, color=DARK)


for n, spec in enumerate(panels):
    build(n, spec)

fig.savefig("out.png", dpi=100, facecolor="white")
